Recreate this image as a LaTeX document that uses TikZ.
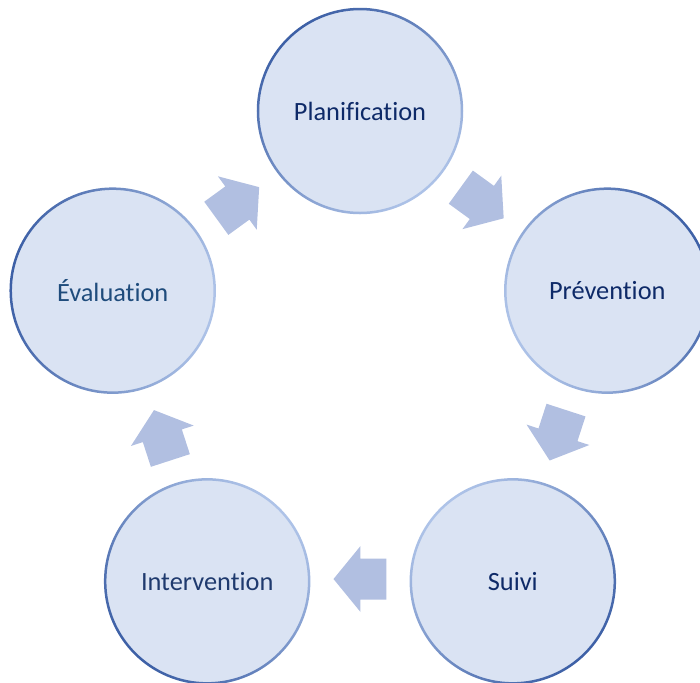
\documentclass[tikz,border=0pt]{standalone}
\usepackage{fontspec}
\setmainfont{Carlito}[Ligatures=NoCommon]
\usepackage{tikz}
\definecolor{fillblue}{HTML}{DAE3F3}
\definecolor{arrowblue}{HTML}{B1BFE1}
\definecolor{ringdark}{HTML}{3D60A6}
\definecolor{ringlight}{HTML}{AEC3E8}
\definecolor{navy}{HTML}{0E2A68}
\definecolor{slate}{HTML}{1F3A6E}
\definecolor{steel}{HTML}{1F4C7C}
\tikzset{
	stage/.style={circle, fill=fillblue, inner sep=0pt, minimum size=4.08cm,
		font=\fontsize{15}{18}\selectfont},
	cyclearrow/.pic={
		\fill[arrowblue] (-0.53,-0.41) -- (-0.01,-0.41) -- (-0.01,-0.66) -- (0.53,0)
			-- (-0.01,0.66) -- (-0.01,0.41) -- (-0.53,0.41) -- cycle;
	}
}

\begin{document}
\begin{tikzpicture}
	\useasboundingbox (-7.2,-6.22) rectangle (6.8,7.42);
	\clip (-7.2,-6.22) rectangle (6.8,7.42);
	% stages of the cycle
	\foreach \ang/\name/\txt/\col/\dark in {90/plan/Planification/navy/130,
		18/prev/Prévention/navy/25, -54/suivi/Suivi/navy/-45,
		-126/inter/Intervention/slate/-135, 162/eval/Évaluation/steel/170}{
		\node[stage, text=\col] (\name) at (\ang:5.2) {\txt};
		\pgfmathsetmacro{\shang}{\dark-90}
		\shade[even odd rule, top color=ringdark, bottom color=ringlight, shading angle=\shang]
			(\name.center) circle (2.065) (\name.center) circle (2.015);
	}
	% arrows between the stages
	\foreach \ang in {54,-18,-90,-162,126}
		\pic[rotate=\ang-90] at (\ang:4.16) {cyclearrow};
\end{tikzpicture}
\end{document}
